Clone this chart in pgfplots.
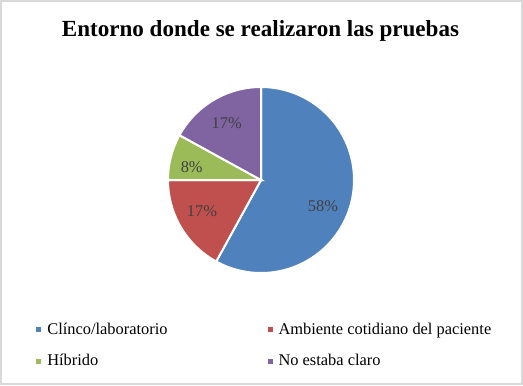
\documentclass[border=0pt]{standalone}
\usepackage{fontspec}
\setmainfont{Liberation Serif}
\usepackage{pgfplots}
\pgfplotsset{compat=1.18}
\definecolor{cA}{HTML}{4F81BD}
\definecolor{cB}{HTML}{C0504D}
\definecolor{cC}{HTML}{9BBB59}
\definecolor{cD}{HTML}{8064A2}
\definecolor{lab}{HTML}{404040}
\definecolor{frm}{HTML}{D9D9D9}
% shares (percent) of each slice
\def\pA{58}\def\pB{17}\def\pC{8}\def\pD{17}
\pgfmathsetmacro\aA{90}
\pgfmathsetmacro\aB{\aA-3.6*\pA}
\pgfmathsetmacro\aC{\aB-3.6*\pB}
\pgfmathsetmacro\aD{\aC-3.6*\pC}
\pgfmathsetmacro\aE{\aD-3.6*\pD}
\pgfplotsset{sq legend/.style={legend image code/.code={\fill[##1] (0pt,-1.9pt) rectangle (3.8pt,1.9pt);}}}
\begin{document}
\begin{tikzpicture}
\begin{axis}[
  scale only axis, width=390.75pt, height=287.25pt,
  xmin=1, xmax=522, ymin=1, ymax=384, y dir=reverse,
  hide axis, clip=false,
  legend columns=2,
  legend cell align=left,
  legend style={draw=none, fill=none, inner sep=0pt, at={(axis cs:36,319.3)}, anchor=north west,
    font=\fontsize{12.3}{14}\selectfont,
    nodes={inner xsep=4.5pt, inner ysep=2pt, text height=9pt, text depth=2.5pt},
    column sep=0pt, row sep=8pt,
    /tikz/every even column/.append style={column sep=70.45pt}},
]
\addplot[forget plot, fill=cA, draw=white, line width=1.5pt, domain=\aA:\aB, samples=120] ({261+93*cos(x)},{180-93*sin(x)}) -- (axis cs:261,180) -- cycle;
\addplot[forget plot, fill=cB, draw=white, line width=1.5pt, domain=\aB:\aC, samples=60] ({261+93*cos(x)},{180-93*sin(x)}) -- (axis cs:261,180) -- cycle;
\addplot[forget plot, fill=cC, draw=white, line width=1.5pt, domain=\aC:\aD, samples=40] ({261+93*cos(x)},{180-93*sin(x)}) -- (axis cs:261,180) -- cycle;
\addplot[forget plot, fill=cD, draw=white, line width=1.5pt, domain=\aD:\aE, samples=60] ({261+93*cos(x)},{180-93*sin(x)}) -- (axis cs:261,180) -- cycle;
\addlegendimage{sq legend, fill=cA, draw=none}
\addlegendentry{Clínco/laboratorio}
\addlegendimage{sq legend, fill=cB, draw=none}
\addlegendentry{Ambiente cotidiano del paciente}
\addlegendimage{sq legend, fill=cC, draw=none}
\addlegendentry{Híbrido}
\addlegendimage{sq legend, fill=cD, draw=none}
\addlegendentry{No estaba claro}
\node[font=\fontsize{12.3}{14}\selectfont, text=lab] at (axis cs:323,206) {58\%};
\node[font=\fontsize{12.3}{14}\selectfont, text=lab] at (axis cs:202,211) {17\%};
\node[font=\fontsize{12.3}{14}\selectfont, text=lab] at (axis cs:191.7,167.3) {8\%};
\node[font=\fontsize{12.3}{14}\selectfont, text=lab] at (axis cs:226.7,122.7) {17\%};
\node[font=\bfseries\fontsize{17.3}{20}\selectfont, anchor=base] at (axis cs:260.5,36.7) {Entorno donde se realizaron las pruebas};
\draw[frm, line width=1.5pt] (rel axis cs:0,0) rectangle (rel axis cs:1,1);
\end{axis}
\end{tikzpicture}
\end{document}
